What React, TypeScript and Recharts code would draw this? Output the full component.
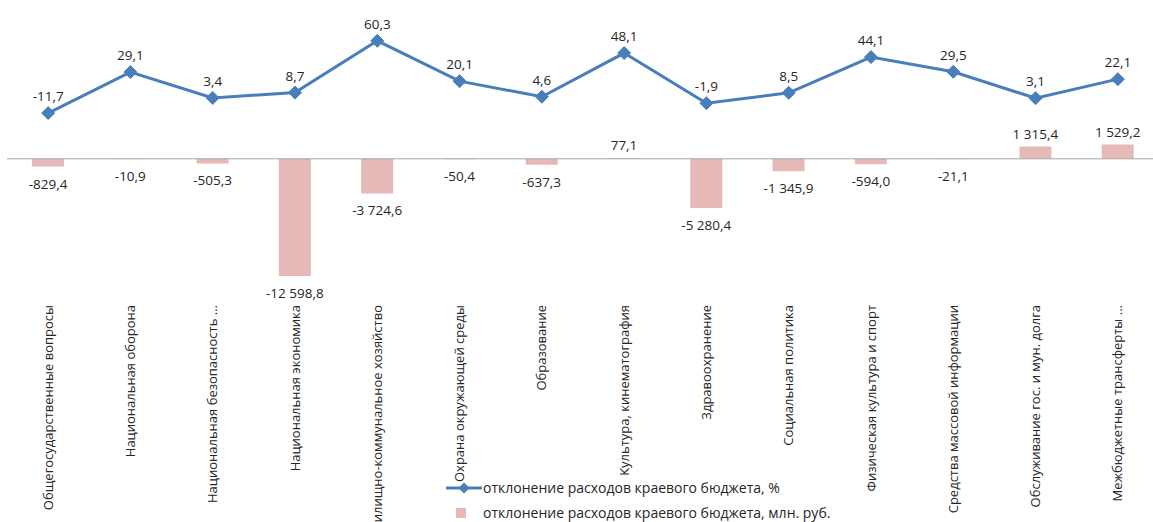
import React from "react";
import {
  ComposedChart,
  Bar,
  Line,
  XAxis,
  YAxis,
  ReferenceLine,
  LabelList,
} from "recharts";

const categories = [
  "Общегосударственные вопросы",
  "Национальная оборона",
  "Национальная безопасность ...",
  "Национальная экономика",
  "Жилищно-коммунальное хозяйство",
  "Охрана окружающей среды",
  "Образование",
  "Культура, кинематография",
  "Здравоохранение",
  "Социальная политика",
  "Физическая культура и спорт",
  "Средства массовой информации",
  "Обслуживание гос. и мун. долга",
  "Межбюджетные трансферты ...",
];

const pctValues = [-11.7, 29.1, 3.4, 8.7, 60.3, 20.1, 4.6, 48.1, -1.9, 8.5, 44.1, 29.5, 3.1, 22.1];

const rubValues = [
  -829.4, -10.9, -505.3, -12598.8, -3724.6, -50.4, -637.3, 77.1, -5280.4, -1345.9, -594.0, -21.1,
  1315.4, 1529.2,
];

const pctLabel = "отклонение расходов краевого бюджета, %";
const rubLabel = "отклонение расходов краевого бюджета, млн. руб.";

const FONT = "'Open Sans', 'Noto Sans', sans-serif";
const LINE_COLOR = "#4a7ebb";
const BAR_COLOR = "#e6b9b8";
const TEXT_COLOR = "#262626";

const data = categories.map((name, i) => ({
  name,
  pct: pctValues[i],
  rub: rubValues[i],
}));

function fmt(v: number): string {
  const s = Math.abs(v).toFixed(1);
  const [int, dec] = s.split(".");
  const grouped = int.replace(/\B(?=(\d{3})+(?!\d))/g, "\u00a0");
  return (v < 0 ? "-" : "") + grouped + "," + dec;
}

function Diamond(props: any) {
  const { cx, cy } = props;
  if (cx == null || cy == null) return null;
  const r = 6.5;
  return (
    <path
      d={`M${cx},${cy - r}L${cx + r},${cy}L${cx},${cy + r}L${cx - r},${cy}Z`}
      fill={LINE_COLOR}
      stroke={LINE_COLOR}
    />
  );
}

function CategoryTick(props: any) {
  const { x, y, payload } = props;
  return (
    <text
      x={x}
      y={y}
      transform={`rotate(-90, ${x}, ${y})`}
      textAnchor="end"
      dy="0.35em"
      fontSize={13}
      fontFamily={FONT}
      fill={TEXT_COLOR}
    >
      {payload.value}
    </text>
  );
}

function BarValueLabel(props: any) {
  const { x, y, width, height, value } = props;
  const top = Math.min(y, y + height);
  const bottom = Math.max(y, y + height);
  const cy = value < 0 ? bottom + 17 : top - 13;
  return (
    <text
      x={x + width / 2}
      y={cy}
      textAnchor="middle"
      dominantBaseline="central"
      fontSize={13.5}
      fontFamily={FONT}
      fill={TEXT_COLOR}
    >
      {fmt(value)}
    </text>
  );
}

export default function App() {
  return (
    <div
      style={{
        position: "absolute",
        left: 0,
        top: 0,
        width: 1153,
        height: 522,
        overflow: "hidden",
        background: "#ffffff",
      }}
    >
      <ComposedChart
        width={1160}
        height={522}
        data={data}
        margin={{ top: 10, right: 1, left: 7, bottom: 0 }}
      >
        <XAxis
          dataKey="name"
          axisLine={false}
          tickLine={false}
          interval={0}
          height={233}
          tickMargin={10}
          tick={<CategoryTick />}
        />
        <YAxis yAxisId="pct" hide domain={[-187, 91]} />
        <YAxis yAxisId="rub" hide domain={[-14000, 16000]} />
        <ReferenceLine yAxisId="rub" y={0} stroke="#a6a6a6" strokeWidth={1} />
        <Bar
          yAxisId="rub"
          dataKey="rub"
          name={rubLabel}
          fill={BAR_COLOR}
          barSize={32}
          isAnimationActive={false}
        >
          <LabelList dataKey="rub" content={<BarValueLabel />} />
        </Bar>
        <Line
          yAxisId="pct"
          type="linear"
          dataKey="pct"
          name={pctLabel}
          stroke={LINE_COLOR}
          strokeWidth={3}
          dot={<Diamond />}
          activeDot={false}
          isAnimationActive={false}
        >
          <LabelList
            dataKey="pct"
            position="top"
            offset={12}
            formatter={(v: any) => fmt(Number(v))}
            style={{ fontSize: 13.5, fontFamily: FONT, fill: TEXT_COLOR }}
          />
        </Line>
      </ComposedChart>

      {/* легенда поверх подписей оси, как в исходнике */}
      <div
        style={{
          position: "absolute",
          left: 446,
          top: 478,
          fontFamily: FONT,
          fontSize: 14,
          color: TEXT_COLOR,
          lineHeight: "20px",
        }}
      >
        <div style={{ display: "flex", alignItems: "center", height: 20 }}>
          <svg width={36} height={14} style={{ marginRight: 1 }}>
            <line x1={0} y1={7} x2={36} y2={7} stroke={LINE_COLOR} strokeWidth={3} />
            <path d="M18,1.5L23.5,7L18,12.5L12.5,7Z" fill={LINE_COLOR} />
          </svg>
          <span>{pctLabel}</span>
        </div>
        <div style={{ display: "flex", alignItems: "center", height: 20, marginTop: 5 }}>
          <svg width={36} height={14} style={{ marginRight: 1 }}>
            <rect x={10} y={2} width={10} height={10} fill={BAR_COLOR} />
          </svg>
          <span>{rubLabel}</span>
        </div>
      </div>
    </div>
  );
}
